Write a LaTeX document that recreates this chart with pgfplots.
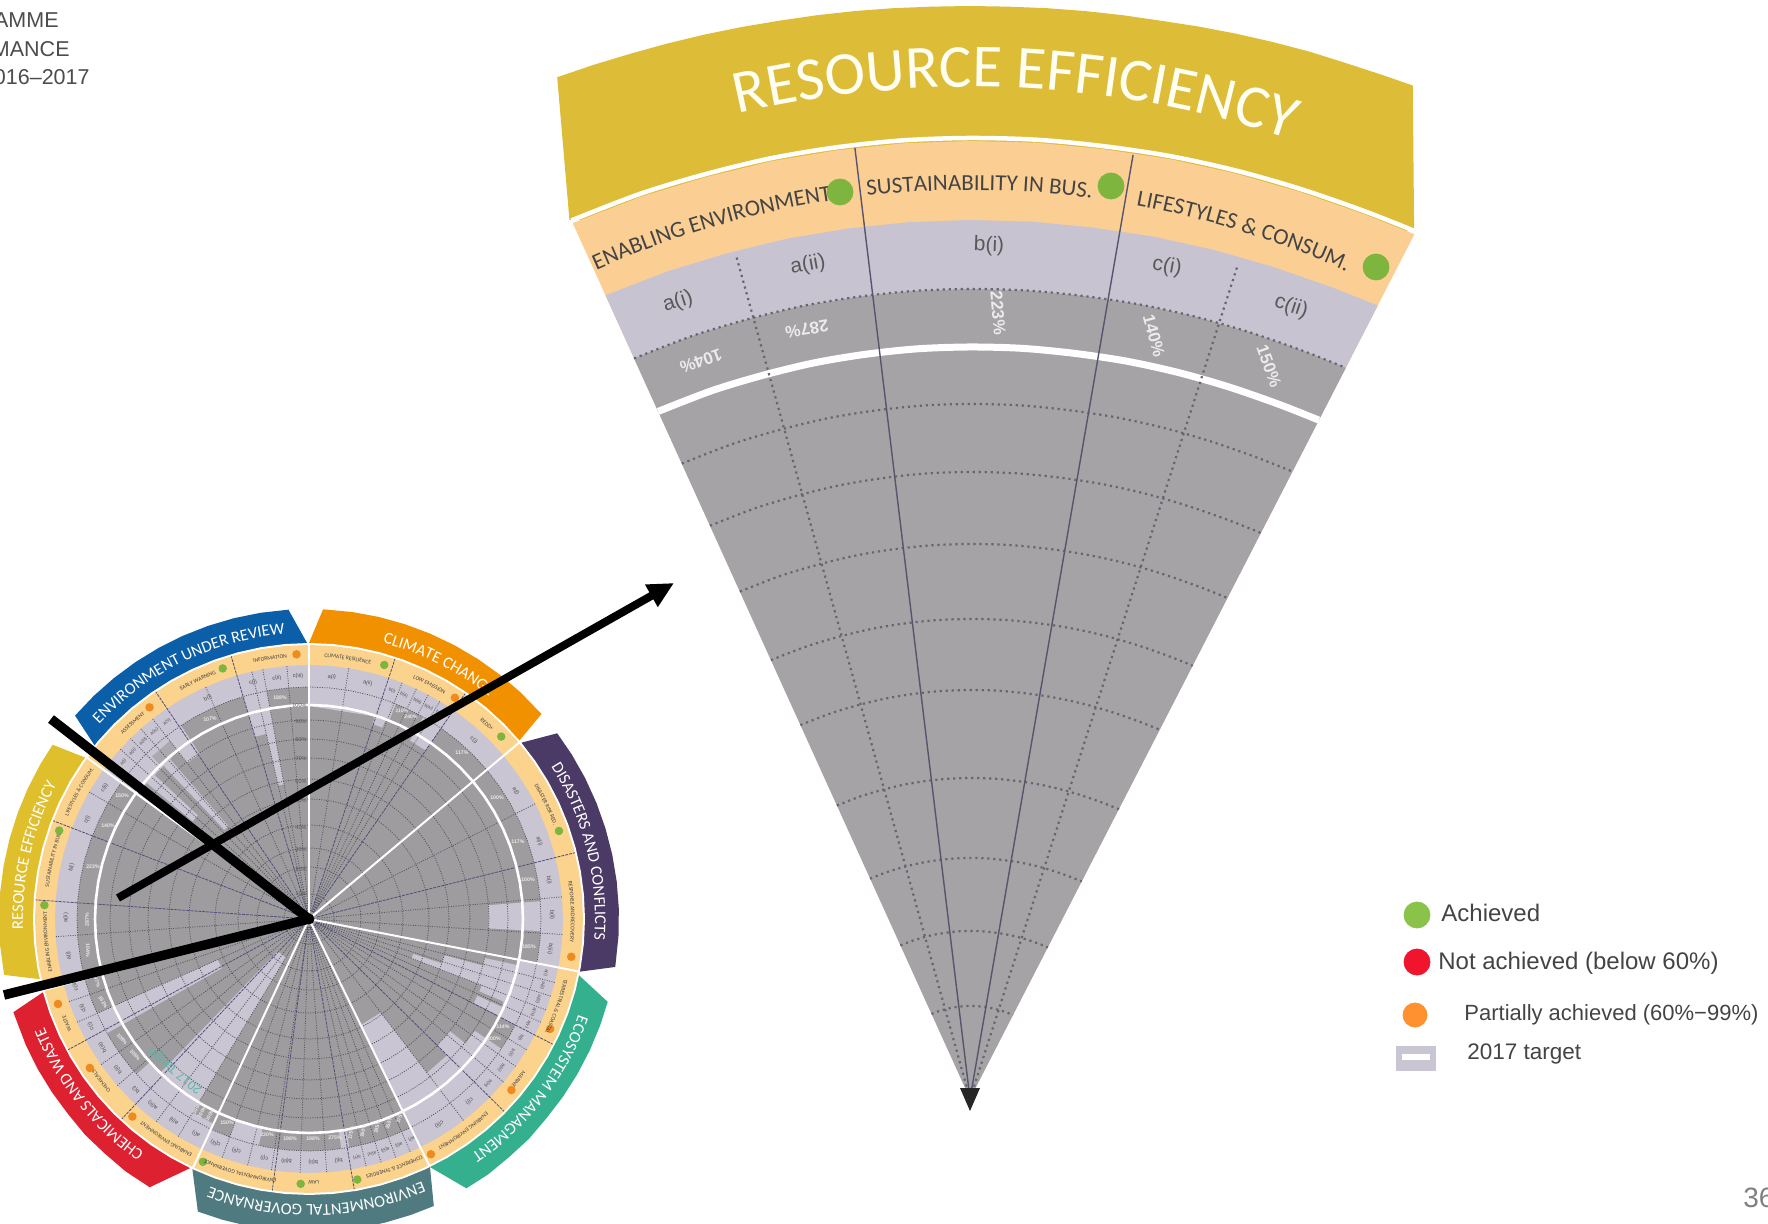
\documentclass[border=0pt]{standalone}
\usepackage{fontspec}
\usepackage{pgfplots}
\pgfplotsset{compat=1.18}
\usetikzlibrary{arrows.meta,decorations.text}
\setmainfont{Liberation Sans}
\newfontfamily\car{Carlito}
\definecolor{cBlue}{HTML}{0B5EA8}
\definecolor{cOrange}{HTML}{F29100}
\definecolor{cPurple}{HTML}{4B3A66}
\definecolor{cTeal}{HTML}{35B08F}
\definecolor{cSlate}{HTML}{4F7A80}
\definecolor{cRed}{HTML}{DD2130}
\definecolor{cYellow}{HTML}{E0BF2D}
\definecolor{cRing}{HTML}{FBD38D}
\definecolor{cLav}{HTML}{C9C5D3}
\definecolor{cGray}{HTML}{9E9C9E}
\definecolor{cGrayL}{HTML}{ABA9AF}
\definecolor{cDot}{HTML}{55555F}
\definecolor{cDiv}{HTML}{4E4E78}
\definecolor{fYellow}{HTML}{DDBC38}
\definecolor{fOrange}{HTML}{FBCF94}
\definecolor{fLav}{HTML}{C7C3D1}
\definecolor{fGray}{HTML}{A5A3A5}
\definecolor{fDot}{HTML}{66666E}
\definecolor{fLine}{HTML}{55556E}
\definecolor{gGreen}{HTML}{8BC34A}
\definecolor{gRed}{HTML}{F0142D}
\definecolor{gOrg}{HTML}{FF9130}
\definecolor{gGreenD}{HTML}{7DB53F}
\definecolor{gOrgD}{HTML}{EE8A1E}
\definecolor{txt}{HTML}{444444}
% one reference pixel is half a point here
\pgfplotsset{pagebase/.style={scale only axis,width=884pt,height=612pt,hide axis,at={(0pt,0pt)},anchor=south west,clip=false}}
\newcommand\disc[2]{\addplot[fill=#1,draw=none,data cs=polar] coordinates {(0,#2)(5,#2)(10,#2)(15,#2)(20,#2)(25,#2)(30,#2)(35,#2)(40,#2)(45,#2)(50,#2)(55,#2)(60,#2)(65,#2)(70,#2)(75,#2)(80,#2)(85,#2)(90,#2)(95,#2)(100,#2)(105,#2)(110,#2)(115,#2)(120,#2)(125,#2)(130,#2)(135,#2)(140,#2)(145,#2)(150,#2)(155,#2)(160,#2)(165,#2)(170,#2)(175,#2)(180,#2)(185,#2)(190,#2)(195,#2)(200,#2)(205,#2)(210,#2)(215,#2)(220,#2)(225,#2)(230,#2)(235,#2)(240,#2)(245,#2)(250,#2)(255,#2)(260,#2)(265,#2)(270,#2)(275,#2)(280,#2)(285,#2)(290,#2)(295,#2)(300,#2)(305,#2)(310,#2)(315,#2)(320,#2)(325,#2)(330,#2)(335,#2)(340,#2)(345,#2)(350,#2)(355,#2)} --cycle;}
\newcommand\ring[2]{\addplot[#1,data cs=polar] coordinates {(0,#2)(5,#2)(10,#2)(15,#2)(20,#2)(25,#2)(30,#2)(35,#2)(40,#2)(45,#2)(50,#2)(55,#2)(60,#2)(65,#2)(70,#2)(75,#2)(80,#2)(85,#2)(90,#2)(95,#2)(100,#2)(105,#2)(110,#2)(115,#2)(120,#2)(125,#2)(130,#2)(135,#2)(140,#2)(145,#2)(150,#2)(155,#2)(160,#2)(165,#2)(170,#2)(175,#2)(180,#2)(185,#2)(190,#2)(195,#2)(200,#2)(205,#2)(210,#2)(215,#2)(220,#2)(225,#2)(230,#2)(235,#2)(240,#2)(245,#2)(250,#2)(255,#2)(260,#2)(265,#2)(270,#2)(275,#2)(280,#2)(285,#2)(290,#2)(295,#2)(300,#2)(305,#2)(310,#2)(315,#2)(320,#2)(325,#2)(330,#2)(335,#2)(340,#2)(345,#2)(350,#2)(355,#2)(360,#2)};}
\newcommand\cell[5]{\addplot[fill=#1,draw=none,data cs=polar] coordinates {(#2,#4)(#2,#5)(#3,#5)(#3,#4)} --cycle;}
\newcommand\lav[3]{\cell{cLav}{#1}{#2}{#3}{236}}
\def\cx{309}\def\cy{305}
\newcommand\arclab[5]{\path[decorate,decoration={text along path,text align=center,text={|#1|#5}}] ({(\cx+#2*cos(#3))*.5pt},{(\cy+#2*sin(#3))*.5pt}) arc[start angle={#3},end angle={#4},radius={#2*.5pt}];}
\newcommand\ctitle[3]{\arclab{\car\fontsize{8.2}{8.2}\selectfont\color{white}}{286}{#1}{#2}{#3}}
\newcommand\secl[2]{\arclab{\car\fontsize{2.8}{2.8}\selectfont\color{black!75}}{262}{#1+17}{#1-17}{#2}}
\newcommand\cl[2]{\node[rotate={#1-90},font=\fontsize{2.8}{3}\selectfont,text=black!70,inner sep=0pt] at (axis cs:{243*cos(#1)},{243*sin(#1)}) {#2};}
\newcommand\cn[2]{\node[rotate={#1-90},font=\fontsize{2.3}{3}\selectfont,text=black!70,inner sep=0pt] at (axis cs:{243*cos(#1)},{243*sin(#1)}) {#2};}
\newcommand\fanfill[2]{\addplot[fill=#1,draw=none,data cs=polar] coordinates {(90,.5)(114.4,{#2*1.004})(110,{#2*1.0025})(106,{#2*1.001})(102,{#2*1.0006})(98,#2)(94,#2)(90,#2)(86,{#2*1.0006})(82,{#2*1.0012})(78,{#2*1.003})(74,{#2*1.005})(70,{#2*1.0075})(66,{#2*1.011})(62.8,{#2*1.015})} --cycle;}
\newcommand\fanarc[2]{\addplot[#1,smooth,data cs=polar] coordinates {(114.4,{#2*1.004})(110,{#2*1.0025})(106,{#2*1.001})(102,{#2*1.0006})(98,#2)(94,#2)(90,#2)(86,{#2*1.0006})(82,{#2*1.0012})(78,{#2*1.003})(74,{#2*1.005})(70,{#2*1.0075})(66,{#2*1.011})(62.8,{#2*1.015})};}
\pgfplotsset{fandot/.style={line width=1.1pt,color=fDot,dash pattern=on 1.1pt off 1.9pt},
 cdot/.style={cDot,line width=.4pt,dash pattern=on .5pt off .7pt}}
\newcommand\pct[4]{\node[rotate=#3,font=\bfseries\fontsize{2.6}{3}\selectfont,text=white!92!black,inner sep=0pt] at (axis cs:#1,#2) {#4};}
\newcommand\sca[3]{\node[anchor=east,font=\fontsize{2.8}{3}\selectfont,text=black!65,inner sep=0pt] at (axis cs:#1,#2) {#3};}
\newcommand\fl[5]{\node[rotate=#3,font=#5,inner sep=0pt] at (axis cs:#1,#2) {#4};}
\begin{document}
\begin{tikzpicture}
\path[use as bounding box] (0pt,0pt) rectangle (884pt,612pt);
\clip (0pt,0pt) rectangle (884pt,612pt);
% ---------- small circle, centre at pixel (309,919) ----------
\begin{axis}[pagebase,xmin=-309,xmax=1459,ymin=-305,ymax=919]
\addplot[fill=cBlue,draw=none,data cs=polar] coordinates {(141,276)(139,310)(134,310)(129,310)(124,310)(119,310)(114,310)(109,310)(104,310)(99,310)(93.8,310)(90.4,276)} --cycle;
\addplot[fill=cOrange,draw=none,data cs=polar] coordinates {(90,276)(87.4,310)(82,310)(77,310)(72,310)(67,310)(62,310)(57,310)(52,310)(47,310)(41.4,310)(40.3,276)} --cycle;
\addplot[fill=cPurple,draw=none,data cs=polar] coordinates {(39.7,276)(36.8,310)(32,310)(27,310)(22,310)(17,310)(12,310)(7,310)(2,310)(-3,310)(-8.9,310)(-11,276)} --cycle;
\addplot[fill=cTeal,draw=none,data cs=polar] coordinates {(-11.8,276)(-15.5,310)(-20,310)(-25,310)(-30,310)(-35,310)(-40,310)(-45,311)(-50,311)(-55,312)(-59.7,312)(-64,276)} --cycle;
\addplot[fill=cSlate,draw=none,data cs=polar] coordinates {(-64,276)(-66.5,313)(-71,313)(-76,313)(-81,313)(-86,313)(-91,313)(-96,313)(-101,313)(-106,313)(-110.8,313)(-115,276)} --cycle;
\addplot[fill=cRed,draw=none,data cs=polar] coordinates {(244.5,276)(239.3,312)(234,312)(229,311)(224,311)(219,310)(214,310)(209,310)(204,310)(197.5,310)(195.4,276)} --cycle;
\addplot[fill=cYellow,draw=none,data cs=polar] coordinates {(192.6,276)(190.4,310)(185,310)(180,310)(175,310)(170,310)(165,310)(160,310)(155,310)(150,310)(145.8,310)(144.2,276)} --cycle;
\disc{white}{276}
\disc{cRing}{274}
\disc{cLav}{254}
\disc{cGray}{232}
% cells that stop short of the 2017 target
\lav{100.5}{103}{137}\lav{103}{106.5}{190}\lav{123.5}{128}{198}\lav{128}{144}{213}\lav{131}{133.5}{123}\lav{137}{140}{152}
\lav{72}{90}{213}\lav{69}{72}{205}\lav{68}{69}{213}\lav{55.3}{60.5}{205}
\lav{-3}{4.4}{180}
\lav{-27.2}{-11}{213}\lav{-21}{-18.5}{110}\lav{-18.5}{-15}{140}\lav{-15}{-12.5}{180}\lav{-23}{-21}{185}\lav{-27}{-24.5}{185}
\lav{-38.5}{-34}{200}\lav{-44.6}{-38.5}{180}\lav{-52.5}{-44.6}{194}\lav{-64}{-52.5}{118}
\lav{-110}{-102.5}{213}\lav{-82}{-80}{213}
\lav{226}{239}{45}\lav{222}{226}{213}\lav{238.5}{245}{226}\lav{204}{209.5}{100}
\cell{cGrayL}{128}{134}{213}{226}
% dotted rings
\ring{cdot}{25}\ring{cdot}{52}\ring{cdot}{71}\ring{cdot}{94}\ring{cdot}{120}\ring{cdot}{140}\ring{cdot}{161}\ring{cdot}{180}\ring{cdot}{199}\ring{cdot}{232}
% radial lines: cell boundaries and section dividers
\pgfplotsinvokeforeach{95,100.5,103,128,131.5,134.7,138,141.5,114,81,68.5,65,62,59,27,5,-3.5,-14.5,-17.7,-21,-24,-31,-35.5,-40,-52.5,-66.5,-70,-73.5,-77,-86,-92,-98.5,-104,-110,239,233,221,215,204,199,184,150}{\addplot[cdot,data cs=polar] coordinates {(#1,8)(#1,254)};}
\pgfplotsinvokeforeach{106.5,124,71.7,55.3,14,-27.2,-44.6,-80.5,262.3,226.9,208.5,176,159}{\addplot[cDiv,line width=.4pt,dash pattern=on 1.5pt off .5pt,data cs=polar] coordinates {(#1,8)(#1,274)};}
% white ring and spokes
\ring{white,line width=1.3pt}{214}
\pgfplotsinvokeforeach{90,40,-11,-64,245,195,144}{\addplot[white,line width=1pt,data cs=polar] coordinates {(#1,1)(#1,275)};}
% status dots
\addplot[only marks,mark=*,mark size=1.9pt,mark options={draw=gOrgD,fill=gOrgD},data cs=polar] coordinates {(92.7,265)(127,265)(56.6,265)(-8.2,265)(-24.5,265)(-40.2,265)(-62.6,265)(228.2,265)(214.2,265)(198.7,265)};
\addplot[only marks,mark=*,mark size=1.9pt,mark options={draw=gGreenD,fill=gGreenD},data cs=polar] coordinates {(109,265)(73.5,265)(43.5,265)(19.4,265)(-79.5,265)(-91.8,265)(246.4,265)(177,265)(160.5,265)};
% cell labels
\cl{92.6}{c(iii)}\cl{97.6}{c(ii)}\cl{103.3}{c(i)}\cl{114.6}{b(i)}\cn{125.8}{a(v)}\cn{129.5}{a(iv)}\cn{133}{a(iii)}\cn{136.5}{a(ii)}\cn{139.8}{a(i)}
\cl{84.6}{a(i)}\cl{76}{a(ii)}\cn{70}{b(i)}\cn{67}{b(ii)}\cn{63.5}{b(iii)}\cn{60.5}{b(iv)}\cn{57.5}{b(v)}\cl{47.3}{c(i)}
\cl{31.7}{a(i)}\cl{18.7}{a(ii)}\cl{9.2}{b(i)}\cl{1}{b(ii)}\cl{-7.1}{b(iii)}
\cn{-12.8}{a(i)}\cn{-15.9}{a(ii)}\cn{-19.3}{a(iii)}\cn{-22.5}{a(iv)}\cn{-25.7}{a(v)}\cn{-29.3}{b(i)}\cn{-33.4}{b(ii)}\cn{-37.7}{b(iii)}\cn{-42.6}{b(iv)}\cl{-48.7}{c(i)}\cl{-57.6}{c(ii)}
\cn{-65}{a(i)}\cn{-68.3}{a(ii)}\cn{-71.7}{a(iii)}\cn{-75}{a(iv)}\cn{-78.6}{a(v)}\cl{-83}{b(i)}\cl{-89}{b(ii)}\cl{-95.3}{b(iii)}\cl{-100.6}{c(i)}\cl{-107.4}{c(ii)}\cl{-112.6}{c(iii)}
\cl{242.3}{a(i)}\cl{236.2}{a(ii)}\cl{230}{a(iii)}\cl{224.6}{b(i)}\cl{218.2}{b(ii)}\cl{211.9}{b(iii)}\cl{206.2}{c(i)}\cl{201.5}{c(ii)}\cl{195.9}{c(iii)}
\cl{188.7}{a(i)}\cl{179.7}{a(ii)}\cl{167.8}{b(i)}\cl{155.9}{c(i)}\cl{147.3}{c(ii)}
\end{axis}
% band titles and section labels
\ctitle{140}{92}{ENVIRONMENT UNDER REVIEW}
\ctitle{85}{41}{CLIMATE CHANGE}
\ctitle{38}{-10}{DISASTERS AND CONFLICTS}
\ctitle{-13}{-62}{ECOSYSTEM MANAGMENT}
\ctitle{-64}{-113}{ENVIRONMENTAL GOVERNANCE}
\ctitle{241}{196}{CHEMICALS AND WASTE}
\ctitle{190}{144}{RESOURCE EFFICIENCY}
\secl{98.5}{INFORMATION}\secl{115}{EARLY WARNING}\secl{132}{ASSESSMENT}\secl{151}{LIFESTYLES {\&} CONSUM.}\secl{167}{SUSTAINABILITY IN BUS.}\secl{185}{ENABLING ENVIRONMENT}\secl{203.3}{WASTE}\secl{218}{CHEMICALS}\secl{237}{ENABLING ENVIRONMENT}\secl{254.7}{ENVIRONMENTAL GOVERNANCE}\secl{-89}{LAW}\secl{-71}{COHERENCE {\&} SYNERGIES}\secl{-54}{ENABLING ENVIRONMENT}\secl{-37.4}{MARINE}\secl{-19.5}{TERRESTRIAL {\&} COASTAL}\secl{1.6}{RESPONSE AND RECOVERY}\secl{25.8}{DISASTER RISK RED.}\secl{47.6}{REDD+}\secl{62.8}{LOW EMISSION}\secl{81.5}{CLIMATE RESILIENCE}
% ---------- fan, centre at pixel (970,1099) ----------
\begin{axis}[pagebase,xmin=-970,xmax=798,ymin=-125,ymax=1099]
\addplot[fill=fYellow,draw=none,data cs=polar] coordinates {(114.5,966)(112,1102)(110,1100.5)(108,1099)(106,1098)(104,1097)(102,1096)(100,1095)(98,1094.5)(96,1094)(94,1093.5)(92,1093)(90,1093)(88,1093)(86,1093.5)(84,1094)(82,1094.5)(80,1095)(78,1096.5)(76,1098)(74,1099.5)(72,1101)(70,1102)(68,1104)(66.4,1106)(62.9,975)} --cycle;
\fanfill{fOrange}{958}
\fanarc{white,line width=2.25pt}{961}
\fanfill{fLav}{879}
\fanfill{fGray}{810}
\fanarc{fandot}{810}
\fanarc{white,line width=3.5pt}{752}
\fanarc{fandot}{695}\fanarc{fandot}{627}\fanarc{fandot}{555}\fanarc{fandot}{480}\fanarc{fandot}{409}\fanarc{fandot}{321}\fanarc{fandot}{241}\fanarc{fandot}{168}\fanarc{fandot}{93}
\addplot[fandot,data cs=polar] coordinates {(105.5,1)(105.5,877)};
\addplot[fandot,data cs=polar] coordinates {(72.2,1)(72.2,877)};
\addplot[color=fLine,line width=.7pt,data cs=polar] coordinates {(96.9,1)(96.9,958)};
\addplot[color=fLine,line width=.7pt,data cs=polar] coordinates {(80.2,1)(80.2,958)};
\end{axis}
\def\cx{970}\def\cy{125}
\arclab{\car\fontsize{30.5}{30.5}\selectfont\color{white!95!yellow}}{1012}{107.4}{67.4}{RESOURCE EFFICIENCY}
\arclab{\car\fontsize{11.5}{11.5}\selectfont\color{txt}}{909}{116.5}{96.5}{ENABLING ENVIRONMENT}
\arclab{\car\fontsize{11.5}{11.5}\selectfont\color{txt}}{909}{99.4}{79.4}{SUSTAINABILITY IN BUS.}
\arclab{\car\fontsize{11.5}{11.5}\selectfont\color{txt}}{909}{82.5}{62.5}{LIFESTYLES {\&} CONSUM.}
% ---------- text set at pixel positions ----------
\begin{axis}[pagebase,xmin=0,xmax=1768,ymin=0,ymax=1224,y dir=reverse]
\pct{280}{698}{0}{188\%}\pct{210}{719}{5}{107\%}\pct{122}{796}{0}{150\%}\pct{108}{826}{0}{140\%}\pct{93}{867}{0}{223\%}
\pct{402}{711}{-5}{110\%}\pct{411}{717}{-5}{240\%}\pct{462}{753}{0}{117\%}\pct{497}{798}{0}{100\%}\pct{518}{842}{0}{117\%}\pct{528}{880}{0}{100\%}
\pct{529}{947}{0}{185\%}\pct{503}{1027}{0}{114\%}\pct{494}{1039}{0}{200\%}
\pct{400}{1117}{70}{175\%}\pct{389}{1123}{72}{150\%}\pct{377}{1127}{75}{185\%}\pct{363}{1131}{78}{160\%}\pct{351}{1133}{80}{175\%}
\pct{335}{1138}{0}{275\%}\pct{313}{1139}{0}{198\%}\pct{290}{1139}{0}{198\%}\pct{267}{1135}{0}{230\%}\pct{227}{1123}{0}{150\%}
\pct{210}{1115}{60}{100\%}\pct{202}{1112}{60}{100\%}\pct{197}{1108}{60}{100\%}
\pct{87}{920}{90}{287\%}\pct{88}{950}{-90}{104\%}\pct{97}{982}{-70}{97\%}\pct{103}{1002}{-60}{151\%}\pct{122}{1039}{-50}{108\%}\pct{135}{1055}{-50}{105\%}
\sca{307}{706}{100\%}\sca{307}{722}{90\%}\sca{307}{740}{80\%}\sca{307}{759}{70\%}\sca{307}{782}{60\%}\sca{307}{801}{50\%}\sca{307}{828}{40\%}\sca{307}{850}{30\%}\sca{307}{870}{20\%}\sca{307}{894}{10\%}
\fl{175}{1070}{141}{\textcolor[HTML]{5BB8A6}{2017 Target}}{\fontsize{6.25}{7}\selectfont}
% fan cell text
\fl{678}{302}{18}{\textcolor{black!65}{a(i)}}{\fontsize{10.5}{12}\selectfont}
\fl{808}{265}{10}{\textcolor{black!65}{a(ii)}}{\fontsize{10.5}{12}\selectfont}
\fl{989}{246}{-2}{\textcolor{black!65}{b(i)}}{\fontsize{10.5}{12}\selectfont}
\fl{1167}{267}{-10}{\textcolor{black!65}{c(i)}}{\fontsize{10.5}{12}\selectfont}
\fl{1291}{307}{-18}{\textcolor{black!65}{c(ii)}}{\fontsize{10.5}{12}\selectfont}
\fl{701}{361}{200}{\textcolor{white!92!black}{104\%}}{\bfseries\fontsize{8.5}{10}\selectfont}
\fl{807}{329}{190}{\textcolor{white!92!black}{287\%}}{\bfseries\fontsize{8.5}{10}\selectfont}
\fl{998}{313}{-85}{\textcolor{white!92!black}{223\%}}{\bfseries\fontsize{8.5}{10}\selectfont}
\fl{1154}{336}{-75}{\textcolor{white!92!black}{140\%}}{\bfseries\fontsize{8.5}{10}\selectfont}
\fl{1269}{366}{-70}{\textcolor{white!92!black}{150\%}}{\bfseries\fontsize{8.5}{10}\selectfont}
% fan status dots
\addplot[only marks,mark=*,mark size=6.5pt,mark options={draw=gGreenD,fill=gGreenD}] coordinates {(840,192)(1111,186)(1376,267)};
% corner text
\node[anchor=east,font=\fontsize{10.75}{12}\selectfont,text=black!70,inner sep=0pt] at (axis cs:59,20) {AMME};
\node[anchor=east,font=\fontsize{10.75}{12}\selectfont,text=black!70,inner sep=0pt] at (axis cs:70,49) {MANCE};
\node[anchor=east,font=\fontsize{10.75}{12}\selectfont,text=black!70,inner sep=0pt] at (axis cs:90,77) {016–2017};
\node[anchor=west,font=\fontsize{14}{15}\selectfont,text=black!50,inner sep=0pt] at (axis cs:1743,1198) {36};
% legend
\addplot[only marks,mark=*,mark size=6.5pt,mark options={draw=gGreen,fill=gGreen}] coordinates {(1417,915)};
\addplot[only marks,mark=*,mark size=6.5pt,mark options={draw=gRed,fill=gRed}] coordinates {(1417,962)};
\addplot[only marks,mark=*,mark size=6pt,mark options={draw=gOrg,fill=gOrg}] coordinates {(1415,1015)};
\addplot[fill=cLav,draw=none] coordinates {(1396,1046)(1436,1046)(1436,1071)(1396,1071)} --cycle;
\addplot[fill=white,draw=none] coordinates {(1402,1054)(1430,1054)(1430,1060)(1402,1060)} --cycle;
\node[anchor=west,font=\fontsize{12}{14}\selectfont,text=txt,inner sep=0pt] at (axis cs:1441,913) {Achieved};
\node[anchor=west,font=\fontsize{12}{14}\selectfont,text=txt,inner sep=0pt] at (axis cs:1438,963) {Not achieved (below 60\%)};
\node[anchor=west,font=\fontsize{11}{13}\selectfont,text=txt,inner sep=0pt] at (axis cs:1464,1015) {Partially achieved (60\%−99\%)};
\node[anchor=west,font=\fontsize{11.25}{13}\selectfont,text=txt,inner sep=0pt] at (axis cs:1467,1054) {2017 target};
\end{axis}
% ---------- thick pointers and the fan's tip ----------
\begin{axis}[pagebase,xmin=0,xmax=1768,ymin=0,ymax=1224,y dir=reverse]
\addplot[black,line width=4.75pt] coordinates {(51,719)(309,919)};
\addplot[black,line width=4.75pt] coordinates {(4,995)(309,919)};
\addplot[only marks,mark=*,mark size=2.5pt,mark options={draw=black,fill=black}] coordinates {(309,919)};
\addplot[black,line width=4pt,-{Triangle[length=13pt,width=12pt]}] coordinates {(118,898)(674,583)};
\addplot[fill=black!85,draw=none] coordinates {(960,1088)(980,1088)(970,1111)} --cycle;
\end{axis}
\end{tikzpicture}
\end{document}
